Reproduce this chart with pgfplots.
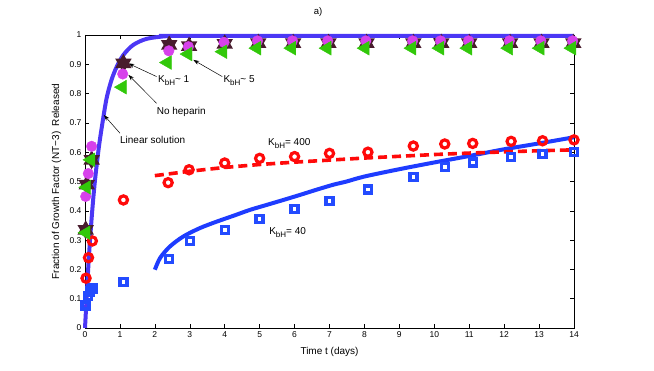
\documentclass[border=0pt]{standalone}
\usepackage{pgfplots}
\pgfplotsset{compat=1.18}
\usepackage{fontspec}
\setmainfont{Liberation Sans}
\usetikzlibrary{arrows.meta}
\definecolor{linblue}{RGB}{75,55,245}
\definecolor{kblue}{RGB}{30,60,255}
\definecolor{sqblue}{RGB}{35,75,255}
\definecolor{starbrown}{RGB}{72,28,45}
\definecolor{mag}{RGB}{215,65,235}
\definecolor{grn}{RGB}{50,200,10}
\definecolor{kred}{RGB}{255,10,10}
\pgfdeclareplotmark{hexstar}{%
 \pgfpathmoveto{\pgfpointpolar{90}{\pgfplotmarksize}}%
 \pgfpathlineto{\pgfpointpolar{210}{\pgfplotmarksize}}%
 \pgfpathlineto{\pgfpointpolar{330}{\pgfplotmarksize}}%
 \pgfpathclose
 \pgfpathmoveto{\pgfpointpolar{270}{\pgfplotmarksize}}%
 \pgfpathlineto{\pgfpointpolar{30}{\pgfplotmarksize}}%
 \pgfpathlineto{\pgfpointpolar{150}{\pgfplotmarksize}}%
 \pgfpathclose
 \pgfusepathqfill}
\newcommand\Kb{K\raisebox{-0.55ex}{\fontsize{8}{8}\selectfont bH}}
\begin{document}
\begin{tikzpicture}
\path[use as bounding box] (0pt,0pt) rectangle (654pt,371pt);
\begin{axis}[
  at={(85pt,43pt)}, anchor=south west,
  scale only axis, width=489pt, height=293pt,
  xmin=0, xmax=14, ymin=0, ymax=1,
  xtick={0,1,...,14},
  ytick={0,0.1,0.2,0.3,0.4,0.5,0.6,0.7,0.8,0.9,1},
  yticklabels={0,0.1,0.2,0.3,0.4,0.5,0.6,0.7,0.8,0.9,1},
  tick align=inside, major tick length=4pt,
  tick style={black, line width=0.5pt},
  axis line style={line width=0.6pt},
  ticklabel style={font=\fontsize{8.5}{9}\selectfont},
  /pgf/number format/assume math mode=true,
  xlabel={Time t (days)},
  xlabel style={font=\fontsize{10}{11}\selectfont, at={(axis description cs:0.5,-0.055)}, anchor=north},
  ylabel={Fraction of Growth Factor (NT−3)\ \ Released},
  ylabel style={font=\fontsize{10}{11}\selectfont, at={(axis description cs:-0.058,0.5)}, anchor=center},
  clip=false,
]
% linear solution
\addplot[linblue, line width=4pt, smooth, tension=0.5] coordinates {
(0,0) (0.05,0.11) (0.1,0.22) (0.15,0.31) (0.2,0.39) (0.25,0.46) (0.3,0.52) (0.4,0.62) (0.5,0.70) (0.62,0.785) (0.76,0.847) (0.91,0.892) (1.1,0.932) (1.38,0.966) (1.77,0.987) (2.34,0.996) (3,0.997) (14,0.997)};
% KbH=40 model
\addplot[kblue, line width=4pt, smooth, tension=0.5] coordinates {
(2,0.199) (2.15,0.239) (2.43,0.278) (2.81,0.312) (3.29,0.341) (3.77,0.363) (4.25,0.383) (4.72,0.403) (5.2,0.42) (5.68,0.437) (6.15,0.454) (6.63,0.472) (7.11,0.489) (7.49,0.5) (8,0.517) (9,0.542) (10,0.565) (11,0.587) (12,0.61) (13,0.63) (14,0.651)};
% KbH=400 model
\addplot[kred, line width=3.6pt, dash pattern=on 9pt off 5pt] coordinates {
(2,0.52) (3,0.535) (4,0.548) (5,0.558) (6,0.566) (7,0.573) (8,0.58) (9,0.586) (10,0.592) (11,0.597) (12,0.601) (13,0.605) (14,0.608)};
% KbH=40 data
\addplot[only marks, mark=square, mark size=3.5pt, sqblue, line width=3.4pt] coordinates {
(0.02,0.077) (0.08,0.11) (0.14,0.125) (0.22,0.135) (1.1,0.156) (2.4,0.235) (3,0.297) (4,0.334) (5,0.372) (6,0.406) (7,0.433) (8.1,0.472) (9.4,0.516) (10.3,0.55) (11.1,0.565) (12.2,0.583) (13.1,0.593) (14,0.60)};
% KbH=400 data
\addplot[only marks, mark=o, mark size=4.1pt, kred, line width=3.2pt] coordinates {
(0.03,0.17) (0.1,0.24) (0.21,0.297) (1.1,0.437) (2.38,0.496) (2.98,0.54) (4,0.563) (5,0.579) (6,0.585) (7,0.596) (8.1,0.60) (9.4,0.621) (10.3,0.628) (11.1,0.63) (12.2,0.637) (13.1,0.639) (14,0.642)};
% KbH~1 stars
\addplot[only marks, mark=hexstar, mark size=9.5pt, starbrown] coordinates {
(0.02,0.335) (0.05,0.489) (0.19,0.574) (1.1,0.903) (2.41,0.966) (2.98,0.962) (4.0,0.97) (4.96,0.972) (5.96,0.972) (6.97,0.972) (8.06,0.972) (9.4,0.972) (10.2,0.972) (11.0,0.972) (12.17,0.972) (13.07,0.972) (13.98,0.972)};
% no heparin
\addplot[only marks, mark=*, mark size=5.3pt, mag, draw=mag] coordinates {
(0.02,0.449) (0.095,0.527) (0.19,0.62) (1.08,0.867) (2.4,0.946) (2.96,0.96) (3.98,0.975) (4.94,0.98) (5.94,0.98) (6.95,0.98) (8.04,0.98) (9.38,0.98) (10.18,0.98) (10.98,0.98) (12.15,0.98) (13.05,0.98) (13.96,0.98)};
% KbH~5
\addplot[only marks, mark=triangle*, mark size=8pt, grn, mark options={rotate=90}] coordinates {
(0.03,0.325) (0.05,0.48) (0.17,0.574) (1.07,0.822) (2.36,0.906) (2.95,0.935) (3.95,0.943) (4.92,0.955) (5.92,0.955) (6.93,0.955) (8.02,0.955) (9.36,0.955) (10.16,0.955) (10.96,0.955) (12.13,0.955) (13.03,0.955) (13.94,0.955)};
% annotations
\node[font=\fontsize{9.5}{10}\selectfont] at (axis cs:6.67,1.078) {a)};
\draw[-{Stealth[length=6pt,width=4pt]}, line width=0.5pt] (axis cs:2.05,0.858) -- (axis cs:1.24,0.903);
\draw[-{Stealth[length=6pt,width=4pt]}, line width=0.5pt] (axis cs:3.93,0.858) -- (axis cs:3.1,0.915);
\draw[-{Stealth[length=6pt,width=4pt]}, line width=0.5pt] (axis cs:2.05,0.767) -- (axis cs:1.24,0.864);
\draw[-{Stealth[length=6pt,width=4pt]}, line width=0.5pt] (axis cs:1.0,0.665) -- (axis cs:0.54,0.727);
\node[anchor=base west, inner sep=0pt, font=\fontsize{10}{11}\selectfont] at (axis cs:2.09,0.837) {\Kb\textasciitilde{} 1};
\node[anchor=base west, inner sep=0pt, font=\fontsize{10}{11}\selectfont] at (axis cs:3.96,0.837) {\Kb\textasciitilde{} 5};
\node[anchor=base west, inner sep=0pt, font=\fontsize{10}{11}\selectfont] at (axis cs:2.05,0.73) {No heparin};
\node[anchor=base west, inner sep=0pt, font=\fontsize{10}{11}\selectfont] at (axis cs:1.0,0.628) {Linear solution};
\node[anchor=base west, inner sep=0pt, font=\fontsize{10}{11}\selectfont] at (axis cs:5.24,0.622) {\Kb= 400};
\node[anchor=base west, inner sep=0pt, font=\fontsize{10}{11}\selectfont] at (axis cs:5.27,0.318) {\Kb= 40};
\end{axis}
\end{tikzpicture}
\end{document}
